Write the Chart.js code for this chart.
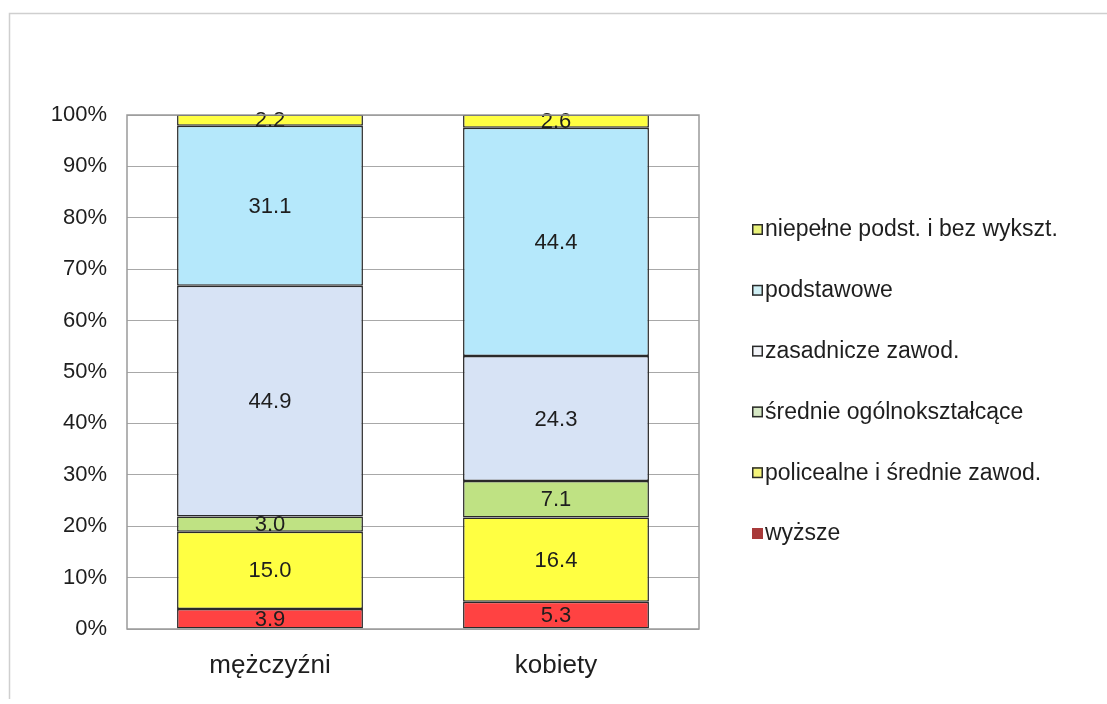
<!DOCTYPE html>
<html lang="pl">
<head>
<meta charset="utf-8">
<title>Struktura wykształcenia</title>
<script src="https://cdn.jsdelivr.net/npm/chart.js@4.4.1/dist/chart.umd.min.js"></script>
<style>
  html, body { margin: 0; padding: 0; background: #ffffff; }
  #wrap { width: 1107px; height: 704px; position: relative; }
</style>
</head>
<body>
<div id="wrap"><canvas id="chart" width="1107" height="704"></canvas></div>
<script>
// Categories (x axis)
const categories = ['mężczyźni', 'kobiety'];

// Education levels, bottom of the stack first
const seriesNames = [
  'wyższe',
  'policealne i średnie zawod.',
  'średnie ogólnokształcące',
  'zasadnicze zawod.',
  'podstawowe',
  'niepełne podst. i bez wykszt.'
];

// Shares in percent for each level: [mężczyźni, kobiety]
const wyzsze = [3.9, 5.3];
const policealne = [15.0, 16.4];
const srednieOgolne = [3.0, 7.1];
const zasadnicze = [44.9, 24.3];
const podstawowe = [31.1, 44.4];
const niepelne = [2.2, 2.6];

// Y axis tick values
const yTicks = [0, 10, 20, 30, 40, 50, 60, 70, 80, 90, 100];

const seriesValues = [wyzsze, policealne, srednieOgolne, zasadnicze, podstawowe, niepelne];
const fills = ['#ff4242', '#ffff42', '#bfe283', '#d7e3f5', '#b5e8fb', '#ffff42'];
const legendFills = ['#a83a3a', '#f4f47a', '#d6e8c4', '#f2f4f8', '#cfeff4', '#e9f27a'];

const FONT = '"Liberation Sans", Arial, sans-serif';

// Value labels centred on each segment
const segmentLabels = {
  id: 'segmentLabels',
  afterDatasetsDraw(chart) {
    const ctx = chart.ctx;
    ctx.save();
    ctx.font = '22px ' + FONT;
    ctx.fillStyle = '#1e1e1e';
    ctx.textAlign = 'center';
    ctx.textBaseline = 'middle';
    chart.data.datasets.forEach((ds, di) => {
      const meta = chart.getDatasetMeta(di);
      meta.data.forEach((bar, i) => {
        const y = (bar.y + bar.base) / 2;
        ctx.fillText(ds.data[i].toFixed(1), bar.x, y + 1);
      });
    });
    ctx.restore();
  }
};

// Plot area outline and the outer frame of the figure
const frame = {
  id: 'frame',
  beforeDraw(chart) {
    const ctx = chart.ctx;
    ctx.save();
    ctx.strokeStyle = '#cfcfcf';
    ctx.lineWidth = 1.5;
    ctx.beginPath();
    ctx.moveTo(9.5, 699);
    ctx.lineTo(9.5, 13.5);
    ctx.lineTo(1107, 13.5);
    ctx.stroke();
    ctx.restore();
  },
  afterDraw(chart) {
    const a = chart.chartArea;
    const ctx = chart.ctx;
    ctx.save();
    ctx.strokeStyle = '#9a9a9a';
    ctx.lineWidth = 1.5;
    ctx.strokeRect(a.left, a.top, a.right - a.left, a.bottom - a.top);
    ctx.restore();
  }
};

// Legend listed top-down from the last series to the first
const sideLegend = {
  id: 'sideLegend',
  afterDraw(chart) {
    const ctx = chart.ctx;
    ctx.save();
    ctx.font = '23px ' + FONT;
    ctx.textBaseline = 'middle';
    ctx.textAlign = 'left';
    const x0 = 752, y0 = 229, step = 60.8;
    const order = chart.data.datasets.map((d, i) => i).reverse();
    order.forEach((di, k) => {
      const ds = chart.data.datasets[di];
      const y = y0 + k * step;
      ctx.fillStyle = legendFills[di];
      ctx.fillRect(x0, y - 5, 11, 11);
      if (di !== 0) {
        ctx.strokeStyle = '#2a2a2a';
        ctx.lineWidth = 1.5;
        ctx.strokeRect(x0 + 0.75, y - 4.25, 9.5, 9.5);
      }
      ctx.fillStyle = '#1e1e1e';
      ctx.fillText(ds.label, x0 + 13, y + 1);
    });
    ctx.restore();
  }
};

new Chart(document.getElementById('chart'), {
  type: 'bar',
  data: {
    labels: categories,
    datasets: seriesNames.map((name, i) => ({
      label: name,
      data: seriesValues[i],
      backgroundColor: fills[i],
      borderColor: '#2a2a2a',
      borderWidth: 1.5,
      borderSkipped: false,
      barPercentage: 0.65,
      categoryPercentage: 1.0
    }))
  },
  options: {
    responsive: false,
    animation: false,
    layout: { padding: { left: 0, top: 115, right: 408, bottom: 0 } },
    plugins: {
      legend: { display: false },
      tooltip: { enabled: false },
      title: { display: false }
    },
    scales: {
      x: {
        stacked: true,
        grid: { display: false },
        border: { display: false },
        ticks: {
          padding: 13,
          color: '#1e1e1e',
          font: { family: FONT, size: 26 }
        },
        afterFit(scale) { scale.height = 75; }
      },
      y: {
        stacked: true,
        min: 0,
        max: 100,
        afterBuildTicks(scale) { scale.ticks = yTicks.map(v => ({ value: v })); },
        grid: { color: '#a8a8a8', lineWidth: 1, drawTicks: false },
        border: { display: false },
        ticks: {
          padding: 20,
          color: '#1e1e1e',
          font: { family: FONT, size: 22 },
          callback: v => v + '%'
        },
        afterFit(scale) { scale.width = 127; }
      }
    }
  },
  plugins: [frame, segmentLabels, sideLegend]
});
</script>
</body>
</html>
